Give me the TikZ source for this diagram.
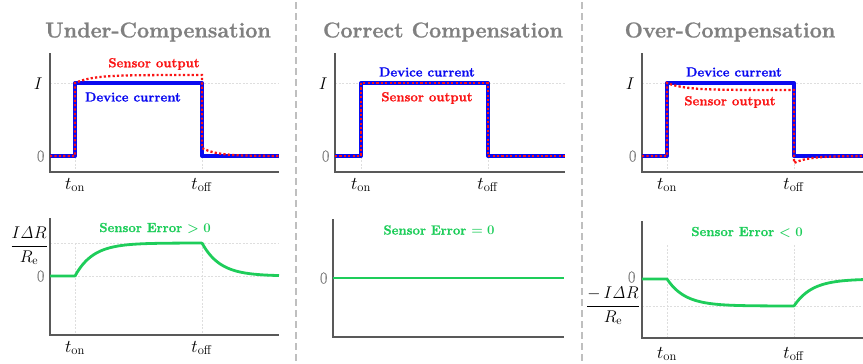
\documentclass[tikz,border=0pt]{standalone}
\usepackage{fix-cm}
\usepackage{amsmath}
\usepackage[no-math]{fontspec}
\newfontfamily\heavyfont{Latin Modern Roman}[FakeBold=1]
\newfontfamily\zerofont{Latin Modern Roman}[FakeBold=0.8]
\definecolor{errgreen}{RGB}{30,205,90}
\definecolor{devblue}{RGB}{10,10,240}
\definecolor{senred}{RGB}{250,20,20}
\tikzset{
  axisline/.style={draw=black!65, line width=1.3pt},
  gridline/.style={draw=black!13, line width=0.5pt, dash pattern=on 2pt off 1.5pt},
  devline/.style={draw=devblue, line width=4pt, line join=round},
  senline/.style={draw=senred, line width=2.3pt, dash pattern=on 2.2pt off 2.2pt},
  errline/.style={draw=errgreen, line width=2.8pt, line join=round},
  paneltitle/.style={text=black!50, font=\fontsize{21.5}{25}\selectfont\heavyfont\bfseries},
  curvelabel/.style={font=\fontsize{13.2}{16}\selectfont\heavyfont\bfseries\boldmath},
  ticklab/.style={font=\fontsize{17}{20}\selectfont},
  zerolab/.style={text=black!50, anchor=east, font=\fontsize{16.5}{20}\selectfont\zerofont},
  tlab/.style={font=\fontsize{18}{21}\selectfont},
  fraclab/.style={font=\fontsize{17}{20}\selectfont},
  seprule/.style={draw=black!25, line width=1.6pt, dash pattern=on 7pt off 4pt}
}
\begin{document}
\begin{tikzpicture}[x=1pt,y=-1pt]
\useasboundingbox (0,0) rectangle (863,364);
% separators
\draw[seprule] (296,2) -- (296,364);
\draw[seprule] (582,2) -- (582,364);

% ================= Panel 1: Under-Compensation =================
\node[paneltitle] (t1) at (158,32) {Under-Compensation};
% top
\draw[gridline] (50,83) -- (279,83);
\draw[gridline] (75,83) -- (75,172);
\draw[gridline] (202,83) -- (202,172);
\draw[axisline] (50,53) -- (50,172) -- (279,172);
\draw[devline] (50,156) -- (75,156) -- (75,83) -- (202,83) -- (202,156) -- (279,156);
\draw[senline] (50,156) -- (75,156) -- (75,83)
   -- plot[domain=75:202,samples=50] (\x,{83-8*(1-exp(-(\x-75)/18))})
   -- (202,148)
   -- plot[domain=202:279,samples=40] (\x,{156-8*exp(-(\x-202)/15)});
\node[ticklab,anchor=east] (i1) at (46,84) {$I$};
\node[zerolab] (z1) at (48,156) {0};
\node[tlab] (on1) at (75,185) {$t_\mathrm{on}$};
\node[tlab] (off1) at (202,185) {$t_\mathrm{off}$};
\node[curvelabel,text=senred] (s1) at (154,64) {Sensor output};
\node[curvelabel,text=devblue] (d1) at (133,97) {Device current};
% bottom
\draw[gridline] (50,243) -- (279,243);
\draw[gridline] (50,276) -- (279,276);
\draw[gridline] (75,243) -- (75,335);
\draw[gridline] (202,243) -- (202,335);
\draw[axisline] (50,218) -- (50,335) -- (279,335);
\draw[errline] (50,276) -- (75,276)
   -- plot[domain=75:202,samples=50] (\x,{276-33*(1-exp(-(\x-75)/18))})
   -- plot[domain=202:279,samples=40] (\x,{276-33*exp(-(\x-202)/18)});
\node[fraclab,anchor=east,inner sep=1pt] (f1) at (49,246) {$\dfrac{I\mathit{\Delta}R}{R_\mathrm{e}}$};
\node[zerolab] (zb1) at (48,276) {0};
\node[tlab] (onb1) at (75,348) {$t_\mathrm{on}$};
\node[tlab] (offb1) at (202,348) {$t_\mathrm{off}$};
\node[curvelabel,text=errgreen] (e1) at (155,228) {Sensor Error $>0$};

% ================= Panel 2: Correct Compensation =================
\node[paneltitle] (t2) at (443,32) {Correct Compensation};
\draw[gridline] (335,83) -- (565,83);
\draw[gridline] (361,83) -- (361,172);
\draw[gridline] (488,83) -- (488,172);
\draw[axisline] (335,53) -- (335,172) -- (565,172);
\draw[devline] (335,156) -- (361,156) -- (361,83) -- (488,83) -- (488,156) -- (565,156);
\draw[senline] (335,156) -- (361,156) -- (361,83) -- (488,83) -- (488,156) -- (565,156);
\node[ticklab,anchor=east] (i2) at (331,84) {$I$};
\node[zerolab] (z2) at (333,156) {0};
\node[tlab] (on2) at (361,185) {$t_\mathrm{on}$};
\node[tlab] (off2) at (488,185) {$t_\mathrm{off}$};
\node[curvelabel,text=devblue] (d2) at (427,72) {Device current};
\node[curvelabel,text=senred] (s2) at (427,98) {Sensor output};
% bottom
\draw[axisline] (333,219) -- (333,337) -- (564,337);
\draw[errline] (333,278) -- (564,278);
\node[zerolab] (zb2) at (331,278) {0};
\node[curvelabel,text=errgreen] (e2) at (439,230) {Sensor Error $=0$};

% ================= Panel 3: Over-Compensation =================
\node[paneltitle] (t3) at (730,32) {Over-Compensation};
\draw[gridline] (642,83) -- (863,83);
\draw[gridline] (667,83) -- (667,172);
\draw[gridline] (794,83) -- (794,172);
\draw[axisline] (642,53) -- (642,172) -- (863,172);
\draw[devline] (642,156) -- (667,156) -- (667,83) -- (794,83) -- (794,156) -- (863,156);
\draw[senline] (642,156) -- (667,156) -- (667,83)
   -- plot[domain=667:794,samples=50] (\x,{83+7*(1-exp(-(\x-667)/18))})
   -- (794,163)
   -- plot[domain=794:863,samples=40] (\x,{156+7*exp(-(\x-794)/15)});
\node[ticklab,anchor=east] (i3) at (638,84) {$I$};
\node[zerolab] (z3) at (640,156) {0};
\node[tlab] (on3) at (667,185) {$t_\mathrm{on}$};
\node[tlab] (off3) at (794,185) {$t_\mathrm{off}$};
\node[curvelabel,text=devblue] (d3) at (734,72) {Device current};
\node[curvelabel,text=senred] (s3) at (730,102) {Sensor output};
% bottom
\draw[gridline] (642,279) -- (863,279);
\draw[gridline] (642,306) -- (863,306);
\draw[gridline] (667,245) -- (667,338);
\draw[gridline] (794,245) -- (794,338);
\draw[axisline] (642,221) -- (642,338) -- (863,338);
\draw[errline] (642,279) -- (667,279)
   -- plot[domain=667:794,samples=50] (\x,{279+27*(1-exp(-(\x-667)/18))})
   -- plot[domain=794:863,samples=40] (\x,{279+27*exp(-(\x-794)/18)});
\node[zerolab] (zb3) at (639,277) {0};
\node[fraclab,anchor=east,inner sep=1pt] (f3) at (641,306) {$\dfrac{-\,I\mathit{\Delta}R}{R_\mathrm{e}}$};
\node[tlab] (onb3) at (667,354) {$t_\mathrm{on}$};
\node[tlab] (offb3) at (794,354) {$t_\mathrm{off}$};
\node[curvelabel,text=errgreen] (e3) at (747,232) {Sensor Error $<0$};
\end{tikzpicture}
\end{document}
